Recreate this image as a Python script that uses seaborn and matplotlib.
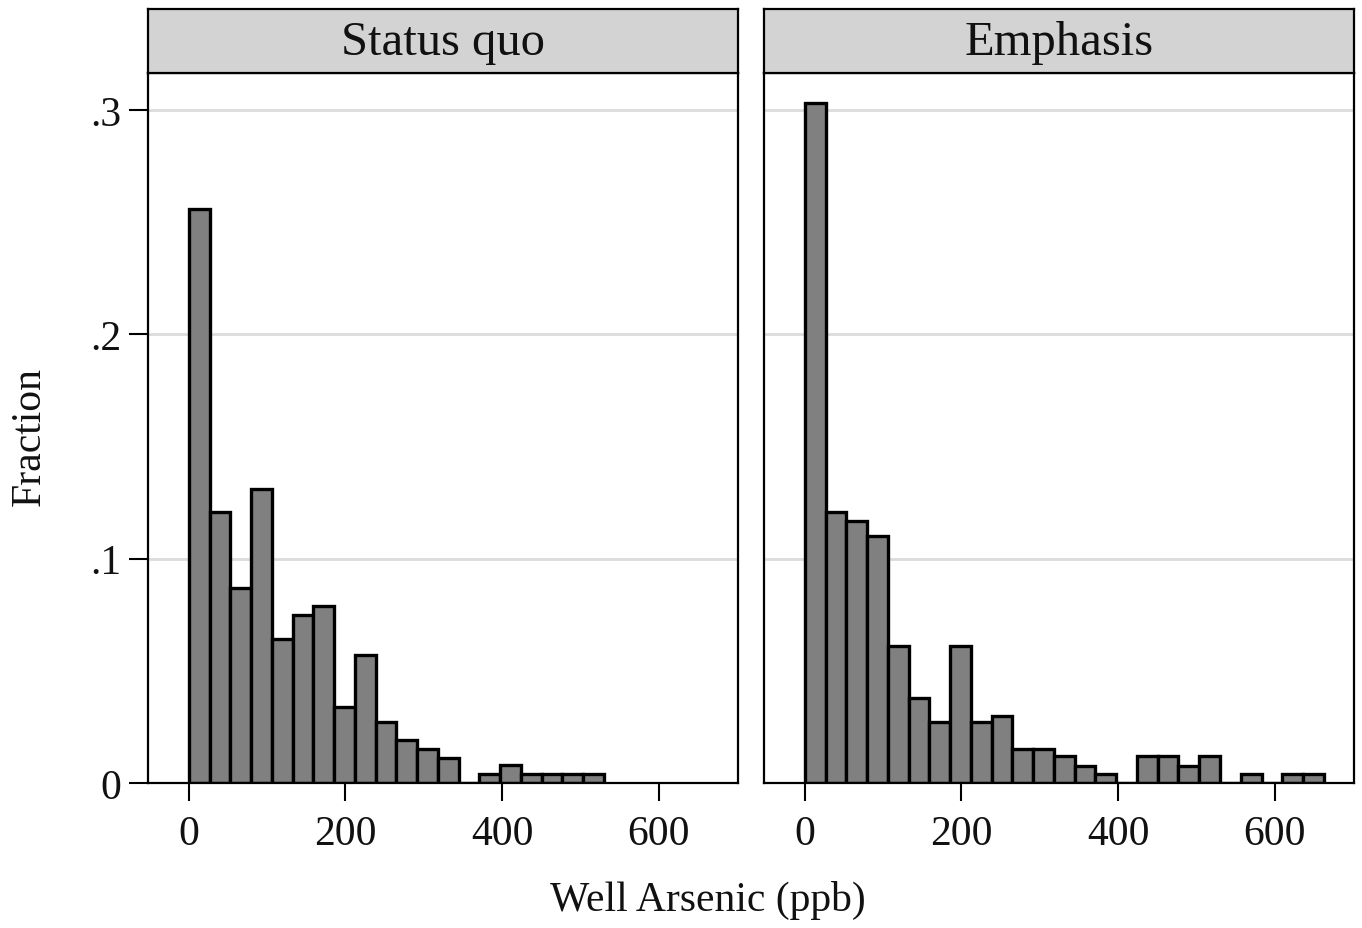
import numpy as np
import pandas as pd
import matplotlib
matplotlib.use("Agg")
import matplotlib.pyplot as plt
import seaborn as sns

# ---- data ----
panels = ["Status quo", "Emphasis"]
bin_width = 26.5
status_quo_frac = [0.256, 0.121, 0.087, 0.131, 0.064, 0.075, 0.079, 0.034, 0.057, 0.027,
                   0.019, 0.015, 0.011, 0.0, 0.004, 0.008, 0.004, 0.004, 0.004, 0.004]
emphasis_frac = [0.303, 0.121, 0.117, 0.110, 0.061, 0.038, 0.027, 0.061, 0.027, 0.030,
                 0.015, 0.015, 0.012, 0.0075, 0.004, 0.0, 0.012, 0.012, 0.0075, 0.012,
                 0.0, 0.004, 0.0, 0.004, 0.004]
x_ticks = [0, 200, 400, 600]
y_ticks = [0, 0.1, 0.2, 0.3]
y_tick_labels = ["0", ".1", ".2", ".3"]
x_label = "Well Arsenic (ppb)"
y_label = "Fraction"

sns.set_theme(style="white")
plt.rcParams["font.family"] = ["Liberation Serif", "DejaVu Serif"]
TXT = "#111111"

W, H = 1362, 929
fig = plt.figure(figsize=(W / 100, H / 100), dpi=100)
fig.patch.set_facecolor("white")

def fx(px):
    return px / W

def fy(py):
    return 1 - py / H

panel_left = [148, 764]
panel_w = 590
top_px, strip_top_px, bottom_px = 74, 10, 784

for i, (name, fr) in enumerate(zip(panels, [status_quo_frac, emphasis_frac])):
    n = len(fr)
    centers = np.arange(n) * bin_width + bin_width / 2
    df = pd.DataFrame({"arsenic": centers, "fraction": fr})
    ax = fig.add_axes([fx(panel_left[i]), fy(bottom_px), fx(panel_w), (bottom_px - top_px) / H])
    ax.set_facecolor("white")
    for y in y_ticks[1:]:
        ax.axhline(y, color="#dcdcdc", lw=2, zorder=0)
    sns.histplot(data=df, x="arsenic", weights="fraction", binwidth=bin_width,
                 binrange=(0, n * bin_width), stat="count",
                 ax=ax, color="#808080", edgecolor="black", linewidth=2.4, alpha=1, zorder=2)
    ax.set_xlim(-52, 701)
    ax.set_ylim(0, 0.3165)
    ax.set_xticks(x_ticks)
    ax.set_xticklabels([str(t) for t in x_ticks])
    ax.set_xlabel("")
    ax.set_ylabel("")
    ax.tick_params(axis="x", direction="out", length=13, width=1.5, color="black",
                   labelsize=30, labelcolor=TXT, pad=10, bottom=True)
    if i == 0:
        ax.set_yticks(y_ticks)
        ax.set_yticklabels(y_tick_labels)
        ax.tick_params(axis="y", direction="out", length=14, width=1.5, color="black",
                       labelsize=30, labelcolor=TXT, pad=5, left=True)
    else:
        ax.set_yticks(y_ticks)
        ax.set_yticklabels([])
        ax.tick_params(axis="y", length=0, left=False)
    for s in ax.spines.values():
        s.set_visible(True)
        s.set_color("black")
        s.set_linewidth(1.6)
    ax.grid(False)

    # strip header
    sax = fig.add_axes([fx(panel_left[i]), fy(top_px), fx(panel_w), (top_px - strip_top_px) / H])
    sax.set_facecolor("#d3d3d3")
    sax.set_xticks([])
    sax.set_yticks([])
    for s in sax.spines.values():
        s.set_visible(True)
        s.set_color("black")
        s.set_linewidth(1.6)
    sax.text(0.5, 0.48, name, ha="center", va="center", fontsize=35, color=TXT,
             transform=sax.transAxes)

fig.text(fx(708), fy(900), x_label, ha="center", va="center", fontsize=30, color=TXT)
fig.text(fx(30), fy(437), y_label, ha="center", va="center", rotation=90, fontsize=30, color=TXT)

fig.savefig("out.png", dpi=100, facecolor="white")
